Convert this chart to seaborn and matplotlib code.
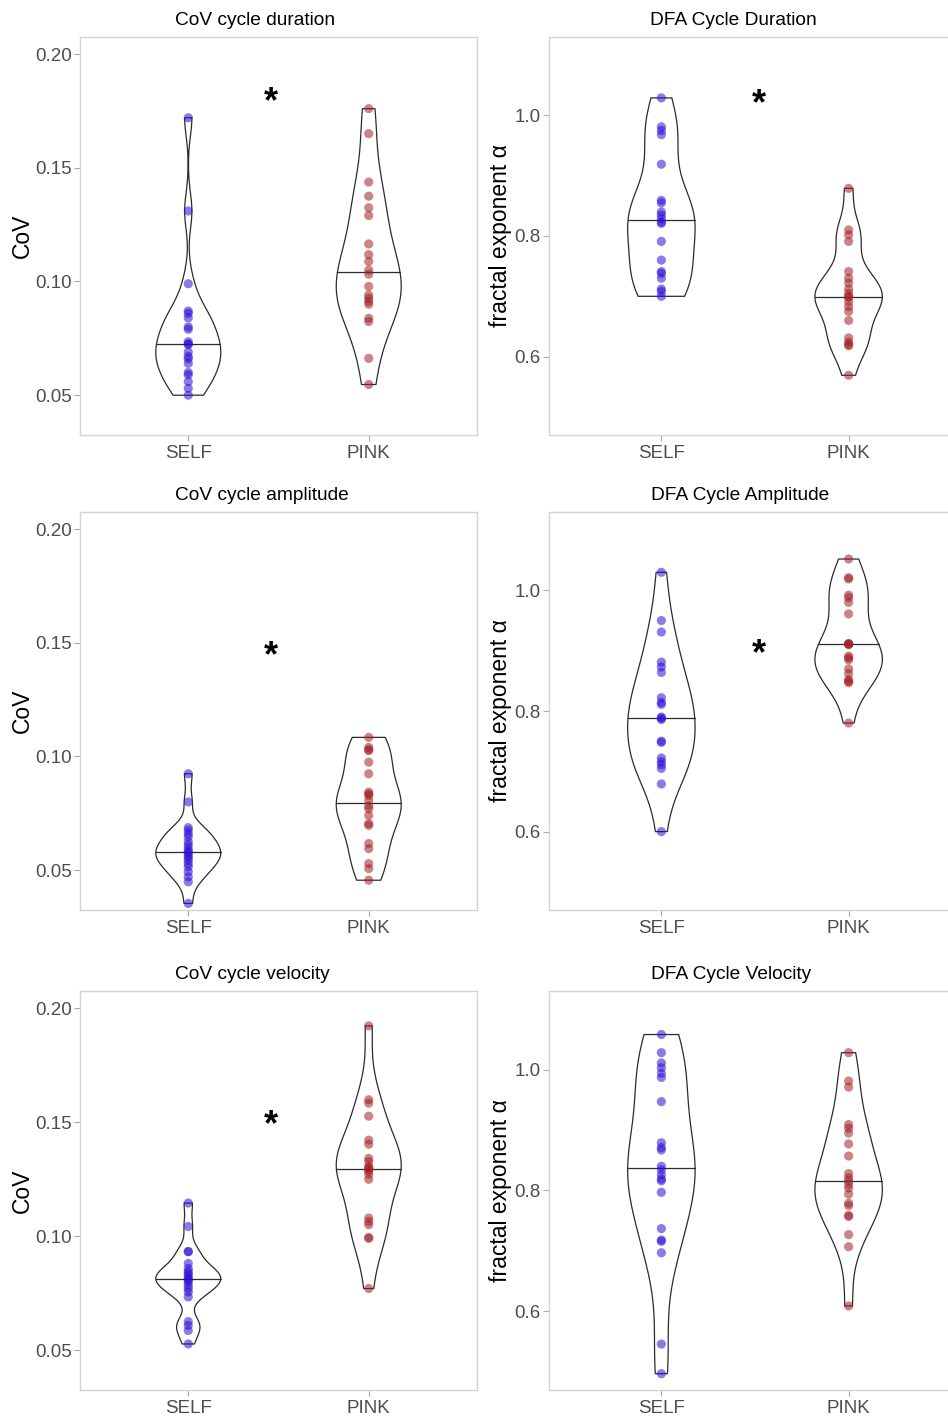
import numpy as np
import pandas as pd
import matplotlib
matplotlib.use("Agg")
import matplotlib.pyplot as plt
import seaborn as sns
from matplotlib.transforms import offset_copy

# ---------------- data ----------------
groups = ["SELF", "PINK"]
titles = ["CoV cycle duration", "DFA Cycle Duration",
          "CoV cycle amplitude", "DFA Cycle Amplitude",
          "CoV cycle velocity", "DFA Cycle Velocity"]
ylabels = ["CoV", "fractal exponent α"] * 3

cov_dur_self = [0.172, 0.131, 0.099, 0.087, 0.086, 0.084, 0.080, 0.079, 0.0735, 0.0725,
                0.0723, 0.069, 0.067, 0.066, 0.064, 0.060, 0.059, 0.056, 0.053, 0.050]
cov_dur_pink = [0.176, 0.165, 0.1437, 0.1375, 0.1324, 0.129, 0.1165, 0.1118, 0.1088, 0.1050,
                0.1032, 0.0978, 0.094, 0.0926, 0.0912, 0.0900, 0.0838, 0.0824, 0.0662, 0.0547]
dfa_dur_self = [1.029, 0.981, 0.975, 0.968, 0.919, 0.859, 0.855, 0.840, 0.835, 0.829,
                0.823, 0.821, 0.791, 0.760, 0.741, 0.738, 0.730, 0.712, 0.708, 0.700]
dfa_dur_pink = [0.879, 0.810, 0.802, 0.791, 0.741, 0.730, 0.722, 0.712, 0.705, 0.700,
                0.698, 0.691, 0.683, 0.675, 0.660, 0.631, 0.624, 0.620, 0.618, 0.569]
cov_amp_self = [0.0924, 0.080, 0.0687, 0.0675, 0.0660, 0.0646, 0.0624, 0.0610, 0.0595, 0.0583,
                0.0577, 0.0565, 0.0555, 0.0544, 0.0529, 0.0515, 0.0493, 0.0471, 0.0449, 0.0354]
cov_amp_pink = [0.1084, 0.1040, 0.1030, 0.1026, 0.0975, 0.0924, 0.0843, 0.0835, 0.0829, 0.0807,
                0.0783, 0.0770, 0.0741, 0.0705, 0.0697, 0.0617, 0.0595, 0.0529, 0.0507, 0.0456]
dfa_amp_self = [1.030, 0.950, 0.931, 0.881, 0.873, 0.864, 0.822, 0.814, 0.811, 0.790,
                0.788, 0.786, 0.750, 0.748, 0.722, 0.716, 0.711, 0.705, 0.679, 0.600]
dfa_amp_pink = [1.052, 1.021, 1.019, 0.992, 0.988, 0.980, 0.961, 0.912, 0.911, 0.911,
                0.910, 0.891, 0.888, 0.885, 0.870, 0.862, 0.852, 0.849, 0.847, 0.780]
cov_vel_self = [0.1145, 0.1042, 0.0932, 0.0932, 0.0880, 0.0858, 0.0845, 0.0835, 0.0825, 0.0814,
                0.0808, 0.0799, 0.0784, 0.0770, 0.0755, 0.0733, 0.0625, 0.0608, 0.0586, 0.0527]
cov_vel_pink = [0.1922, 0.1598, 0.1583, 0.1526, 0.1421, 0.1403, 0.1341, 0.1327, 0.1305, 0.1300,
                0.1292, 0.1285, 0.1271, 0.1249, 0.1079, 0.1064, 0.1050, 0.0994, 0.0990, 0.0770]
dfa_vel_self = [1.058, 1.028, 1.011, 1.003, 0.994, 0.987, 0.947, 0.879, 0.871, 0.867, 0.840,
                0.834, 0.826, 0.819, 0.816, 0.797, 0.737, 0.718, 0.716, 0.697, 0.546, 0.497]
dfa_vel_pink = [1.028, 0.981, 0.971, 0.909, 0.903, 0.895, 0.877, 0.857, 0.828, 0.821, 0.816,
                0.810, 0.804, 0.794, 0.779, 0.775, 0.759, 0.757, 0.727, 0.707, 0.609]

self_data = [cov_dur_self, dfa_dur_self, cov_amp_self, dfa_amp_self, cov_vel_self, dfa_vel_self]
pink_data = [cov_dur_pink, dfa_dur_pink, cov_amp_pink, dfa_amp_pink, cov_vel_pink, dfa_vel_pink]

# significance stars (category position, value); None = no star
star_pos = [(0.46, 0.182), (0.52, 1.030), (0.46, 0.147), (0.52, 0.905), (0.46, 0.1517), None]

cov_ticks = [0.05, 0.10, 0.15, 0.20]
cov_ticklabels = ["0.05", "0.10", "0.15", "0.20"]
dfa_ticks = [0.6, 0.8, 1.0]
dfa_ticklabels = ["0.6", "0.8", "1.0"]

# ---------------- style ----------------
sns.set_style("white")
plt.rcParams["font.family"] = ["Liberation Sans", "DejaVu Sans"]

palette = {"SELF": "#2a0fd6", "PINK": "#a31f24"}
line_col = "#2b2b2b"
W, H = 948, 1416
fig = plt.figure(figsize=(W / 100, H / 100), dpi=100)

cols = [(80, 477), (549, 961)]
rows = [(37, 435), (512, 910), (991, 1390)]
title_x = [0.441, 0.447, 0.458, 0.464, 0.433, 0.442]
ylabel_x = [22, 501]

for k in range(6):
    r, c = divmod(k, 2)
    x0, x1 = cols[c]
    y0, y1 = rows[r]
    ax = fig.add_axes([x0 / W, 1 - y1 / H, (x1 - x0) / W, (y1 - y0) / H])

    s_vals, p_vals = self_data[k], pink_data[k]
    df = pd.DataFrame({"group": ["SELF"] * len(s_vals) + ["PINK"] * len(p_vals),
                       "value": list(s_vals) + list(p_vals)})

    for g, vals in zip(groups, [s_vals, p_vals]):
        v = np.asarray(vals, dtype=float)
        sd = v.std(ddof=1)
        q75, q25 = np.percentile(v, [75, 25])
        factor = 0.9 * min(sd, (q75 - q25) / 1.34) / sd * len(v) ** -0.2  # R's bw.nrd0
        n0 = len(ax.lines)
        sns.violinplot(data=df[df["group"] == g], x="group", y="value", order=groups,
                       ax=ax, fill=False, color=line_col, linewidth=0.9, cut=0,
                       density_norm="width", width=0.36, inner="quart", bw_method=factor)
        for i, ln in enumerate(ax.lines[n0:]):
            if i == 1:
                ln.set_linestyle("-")
                ln.set_color(line_col)
                ln.set_linewidth(0.9)
            else:
                ln.set_visible(False)

    sns.stripplot(data=df, x="group", y="value", order=groups, hue="group",
                  hue_order=groups, palette=palette, jitter=False, size=6.6,
                  alpha=0.55, linewidth=0, legend=False, ax=ax, zorder=3)

    ax.set_xlim(-0.6, 1.6)
    if c == 0:
        ax.set_ylim(0.0325, 0.2075)
        ax.set_yticks(cov_ticks)
        ax.set_yticklabels(cov_ticklabels)
    else:
        ax.set_ylim(0.47, 1.13)
        ax.set_yticks(dfa_ticks)
        ax.set_yticklabels(dfa_ticklabels)
    ax.set_xticks([0, 1])
    ax.set_xticklabels(groups)
    ax.set_xlabel("")
    ax.set_ylabel(ylabels[k], fontsize=16.5, color="black", va="center")
    ax.yaxis.set_label_coords((ylabel_x[c] - x0) / (x1 - x0), 0.5)
    ax.set_title(titles[k], fontsize=13.8, color="black", x=title_x[k], y=1.042,
                 va="center", pad=0)

    ax.tick_params(axis="both", which="major", labelsize=13.5, labelcolor="#4d4d4d",
                   color="#aaaaaa", length=4, width=0.8, pad=2, direction="out",
                   left=True, bottom=True)
    ax.tick_params(axis="x", pad=3)
    for sp in ax.spines.values():
        sp.set_visible(True)
        sp.set_color("#d4d4d4")
        sp.set_linewidth(1.0)

    if star_pos[k] is not None:
        sx, sy = star_pos[k]
        fs = 26
        tr = offset_copy(ax.transData, fig=fig, y=-0.47 * fs, units="points")
        ax.text(sx, sy, "*", transform=tr, ha="center", va="baseline",
                fontsize=fs, fontweight="bold", color="black")

fig.savefig("out.png", dpi=100, facecolor="white")
